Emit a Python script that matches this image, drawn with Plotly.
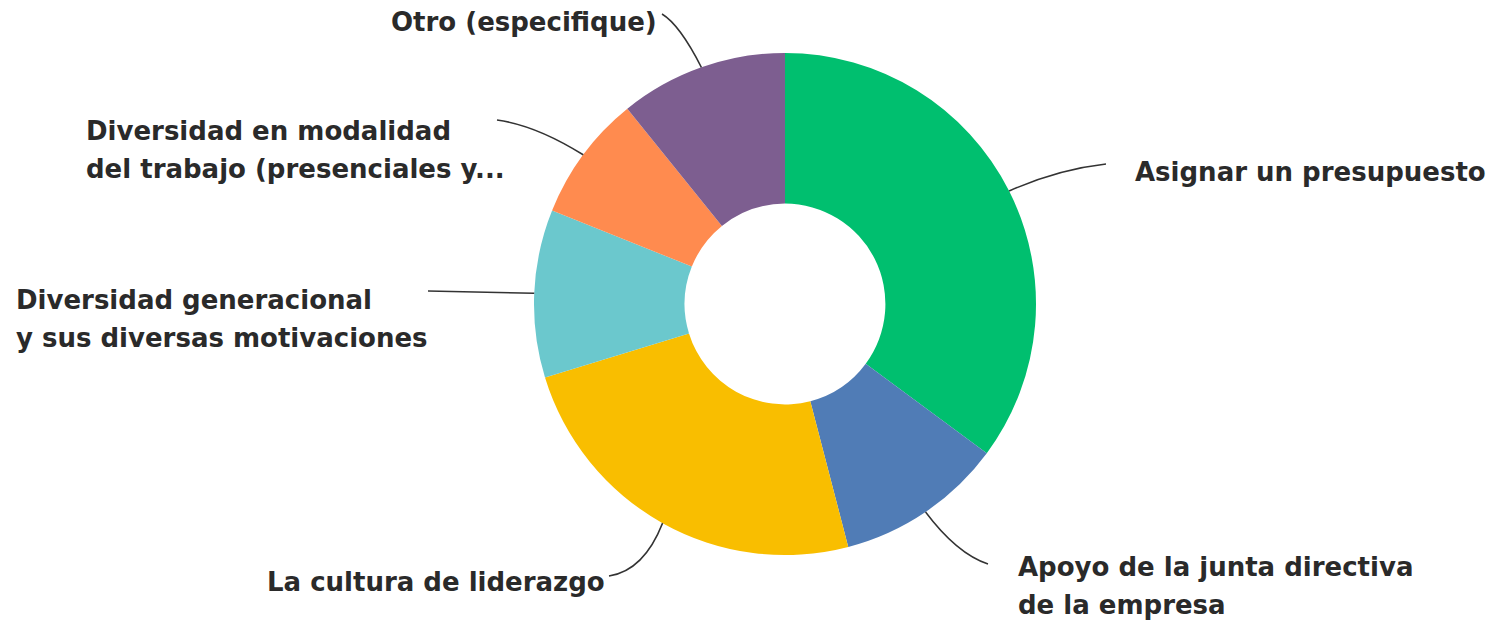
import math
import plotly.graph_objects as go

# ---- data ----
categories = [
    "Asignar un presupuesto",
    "Apoyo de la junta directiva<br>de la empresa",
    "La cultura de liderazgo",
    "Diversidad generacional<br>y sus diversas motivaciones",
    "Diversidad en modalidad<br>del trabajo (presenciales y...",
    "Otro (especifique)",
]
values = [13, 4, 9, 4, 3, 4]
colors = ["#00BF6F", "#507CB6", "#F9BE00", "#6BC8CD", "#FF8B4F", "#7D5E90"]

# ---- layout constants (pixels, as seen in the page) ----
W, H = 1501, 623
OFF = 8  # page body margin
CX, CY, R = 785, 304, 251
LINE_GAP = 38
# label text anchor (x, y, xanchor) and leader-line start (x, y), bend
label_pos = [
    (1133, 172, "left", 1106, 164, 0.5, 0.2),
    (1016, 586, "left", 988, 564, 0.5, 0.2),
    (607, 582, "right", 609, 576, 0.65, 0.1),
    (14, 319, "left", 428, 291, 0.5, 0.5),
    (84, 150, "left", 497, 120, 0.45, 0.15),
    (659, 22, "right", 662, 14, 0.45, 0.2),
]


def px(x):
    return (x - OFF) / W


def py(y):
    return 1 - (y - OFF) / H


fig = go.Figure(
    go.Pie(
        labels=categories,
        values=values,
        marker=dict(colors=colors, line=dict(width=0)),
        hole=0.4,
        sort=False,
        direction="clockwise",
        rotation=0,
        textinfo="none",
        hoverinfo="label+percent",
        domain=dict(x=[px(CX - R), px(CX + R)], y=[py(CY + R), py(CY - R)]),
        showlegend=False,
    )
)

total = sum(values)
cum = 0
annotations = []
shapes = []
for cat, v, pos in zip(categories, values, label_pos):
    mid = (cum + v / 2) / total * 2 * math.pi
    cum += v
    ax = CX + R * math.sin(mid)
    ay = CY - R * math.cos(mid)
    tx, ty, anchor, sx, sy, a, b = pos
    qx = sx + (ax - sx) * a
    qy = sy + (ay - sy) * b
    shapes.append(
        dict(
            type="path",
            xref="paper",
            yref="paper",
            path=f"M {px(sx)},{py(sy)} Q {px(qx)},{py(qy)} {px(ax)},{py(ay)}",
            line=dict(color="#333333", width=1.5),
        )
    )
    lines = cat.split("<br>")
    n = len(lines)
    for i, line in enumerate(lines):
        ly = ty + (i - (n - 1) / 2) * LINE_GAP
        annotations.append(
            dict(
                text=line,
                x=px(tx),
                y=py(ly),
                xref="paper",
                yref="paper",
                xanchor=anchor,
                yanchor="middle",
                align=anchor,
                showarrow=False,
                font=dict(family="DejaVu Sans", size=26, color="#2a2a2a", weight="bold"),
            )
        )

fig.update_layout(
    width=W,
    height=H,
    margin=dict(l=0, r=0, t=0, b=0),
    paper_bgcolor="white",
    plot_bgcolor="white",
    annotations=annotations,
    shapes=shapes,
)

fig.write_html("out.html")
